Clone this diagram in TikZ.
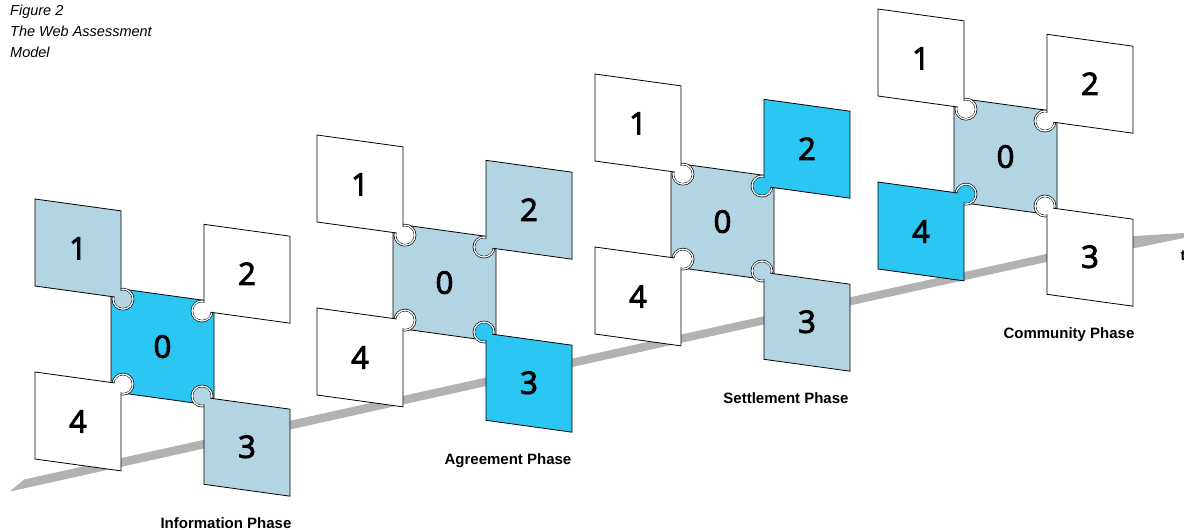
\documentclass[tikz,border=0pt]{standalone}
\usepackage{fontspec}
\setmainfont{Liberation Sans}
\newfontfamily\digitfont{Open Sans}[FakeBold=3]
\definecolor{paleblue}{HTML}{B3D4E3}
\definecolor{brightblue}{HTML}{2CC6F3}
\definecolor{trackgray}{HTML}{B2B2B2}

\begin{document}
\begin{tikzpicture}[x=1pt,y=-1pt,
  piece/.style={draw=black,line width=0.8pt},
  knob/.style={circle,draw=black,double=white,double distance=1.3pt,line width=0.65pt,minimum size=20pt,inner sep=0pt},
  plug/.style={circle,minimum size=17.2pt,inner sep=0pt},
  digit/.style={font=\digitfont\fontsize{31}{31}\selectfont},
  phase/.style={font=\bfseries\fontsize{15}{18}\selectfont}]
\useasboundingbox (0,0) rectangle (1184,530);
\fill[trackgray] (10,491.5) -- (1100,250.1) -- (1135,248) -- (1184,238) -- (1184,233) -- (1135,236) -- (1100,242.1) -- (24,479.5) -- cycle;
\node[anchor=north west,inner sep=0pt,align=left,font=\itshape\fontsize{14.5}{21}\selectfont] (title) at (10,5) {Figure 2\\The Web Assessment\\Model};
\foreach \ox/\oy/\cz/\ca/\cb/\cc/\cd/\phase [count=\i] in {
    35/199/brightblue/paleblue/white/paleblue/white/Information Phase,
    317/135/paleblue/white/paleblue/brightblue/white/Agreement Phase,
    595/74/paleblue/white/brightblue/paleblue/white/Settlement Phase,
    878/9/paleblue/white/white/white/brightblue/Community Phase}{
  \begin{scope}[shift={(\ox,\oy)},yslant=-0.138]
    % centre
    \filldraw[piece,fill=\cz] (76,78) -- (179,78) -- (179,182) -- (76,182) -- cycle;
    \node[digit] (c\i) at (127.5,130) {0};
    % 1
    \node[knob,fill=\ca] (ka\i) at (88,88) {};
    \filldraw[piece,fill=\ca] (0,0) -- (86,0) -- (86,87) -- (0,87) -- cycle;
    \node[plug,fill=\ca] (pa\i) at (88,88) {};
    \node[digit] (a\i) at (43,43.5) {1};
    % 2
    \node[knob,fill=\cb] (kb\i) at (167,89) {};
    \filldraw[piece,fill=\cb] (169,2) -- (255,2) -- (255,89) -- (169,89) -- cycle;
    \node[plug,fill=\cb] (pb\i) at (167,89) {};
    \node[digit] (b\i) at (212,45.5) {2};
    % 3
    \node[knob,fill=\cc] (kc\i) at (167,174) {};
    \filldraw[piece,fill=\cc] (169,175) -- (255,175) -- (255,262) -- (169,262) -- cycle;
    \node[plug,fill=\cc] (pc\i) at (167,174) {};
    \node[digit] (cc\i) at (212,218.5) {3};
    % 4
    \node[knob,fill=\cd] (kd\i) at (88,173) {};
    \filldraw[piece,fill=\cd] (0,173) -- (86,173) -- (86,260) -- (0,260) -- cycle;
    \node[plug,fill=\cd] (pd\i) at (88,173) {};
    \node[digit] (d\i) at (43,216.5) {4};
  \end{scope}
  \node[phase,anchor=base] (ph\i) at (\ox+191,\oy+329) {\phase};
}
\node[phase,anchor=base west] (t) at (1177,260) {t};
\end{tikzpicture}
\end{document}
